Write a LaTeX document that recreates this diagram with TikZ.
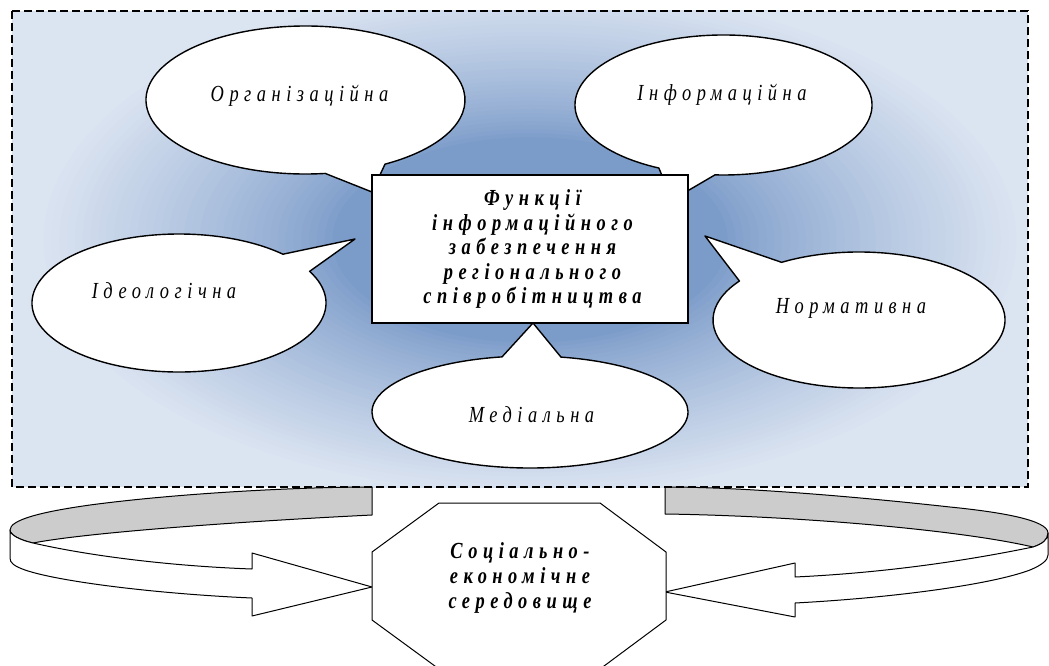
\documentclass[tikz,border=0pt]{standalone}
\usepackage{fontspec}
\setmainfont{Liberation Serif}
\newfontfamily\lblfont[FakeStretch=0.8,LetterSpace=24]{Liberation Serif}
\usetikzlibrary{calc}
\definecolor{bgdark}{RGB}{123,155,201}
\definecolor{bglight}{RGB}{219,228,241}
\definecolor{bandgray}{RGB}{204,204,204}
\begin{document}
\begin{tikzpicture}[x=1pt,y=-1pt,
  callout/.style={fill=white,draw=black,line width=1.4pt,line join=round},
  boxstyle/.style={fill=white,draw=black,line width=1.2pt},
  lbl/.style={font=\lblfont\itshape\fontsize{23}{24.5}\selectfont,inner sep=0pt,anchor=base},
  ttl/.style={font=\lblfont\bfseries\itshape\fontsize{23}{24.5}\selectfont,align=center,inner sep=0pt},
  band/.style={draw=black,line width=1pt,line join=round},
  frame/.style={draw=black,line width=1.6pt,dash pattern=on 8pt off 4pt}]
\useasboundingbox (0,0) rectangle (1049,666);
% background gradient (from centre)
\begin{scope}
  \clip (12,11) rectangle (1028,487);
  \fill[bglight] (12,11) rectangle (1028,487);
  \foreach \i in {0,...,40}{
    \pgfmathsetmacro\rr{0.98-\i*0.015}
    \pgfmathsetmacro\tt{100*(max(0.001,min(1,(\rr-0.38)/0.57)))^0.8}
    \fill[bglight!\tt!bgdark] (530,240) ellipse[x radius=520*\rr,y radius=270*\rr];
  }
\end{scope}
% curved 3D arrows
\draw[band,fill=bandgray] (372,487) -- (372,515)
  .. controls (250,521) and (90,532) .. (33,543)
  .. controls (20,540) and (10,535) .. (10,530)
  .. controls (10,520) and (40,512) .. (90,505)
  .. controls (180,493) and (300,487) .. (372,487) -- cycle;
\draw[band,fill=white] (33,543)
  .. controls (90,556) and (170,566) .. (252,569)
  -- (252,553) -- (372,587) -- (252,616) -- (252,598)
  .. controls (160,594) and (60,582) .. (25,570)
  .. controls (14,566) and (10,563) .. (10,558)
  -- (10,530)
  .. controls (10,535) and (20,540) .. (33,543) -- cycle;
\draw[band,fill=bandgray] (665,487) -- (665,514)
  .. controls (800,516) and (960,530) .. (1033,547)
  .. controls (1042,544) and (1048,540) .. (1048,533)
  .. controls (1048,520) and (1000,512) .. (950,507)
  .. controls (850,496) and (740,487) .. (665,487) -- cycle;
\draw[band,fill=white] (1033,547)
  .. controls (960,562) and (880,573) .. (795,577)
  -- (795,563) -- (665,592) -- (795,617) -- (795,603)
  .. controls (890,598) and (990,585) .. (1030,570)
  .. controls (1042,565) and (1048,560) .. (1048,555)
  -- (1048,533)
  .. controls (1048,540) and (1042,544) .. (1033,547) -- cycle;
% dashed frame
\draw[frame] (12,11) rectangle (1028,487);
% octagon
\draw[band,fill=white] (439,503) -- (600,503) -- (666,552) -- (666,620) -- (600,669) -- (439,669) -- (372,620) -- (372,552) -- cycle;
\node[ttl,font=\lblfont\bfseries\itshape\fontsize{23}{25}\selectfont] (env) at (520,578.4) {Соціально-\\економічне\\середовище};
% callouts
\coordinate (orgC) at (305.5,100);
\coordinate (orgT) at (372,192);
\draw[callout] ($(orgC)+(82.9:159.5 and 74)$) arc[start angle=82.9,end angle=420.1,x radius=159.5,y radius=74] -- (orgT) -- cycle;
\coordinate (infC) at (723.5,105);
\coordinate (infT) at (672,200);
\draw[callout] ($(infC)+(115.8:148.5 and 70)$) arc[start angle=115.8,end angle=453.3,x radius=148.5,y radius=70] -- (infT) -- cycle;
\coordinate (ideC) at (179,303);
\coordinate (ideT) at (355,239);
\draw[callout] ($(ideC)+(-27.3:147 and 69)$) arc[start angle=-27.3,end angle=315,x radius=147,y radius=69] -- (ideT) -- cycle;
\coordinate (norC) at (859,320);
\coordinate (norT) at (705,236);
\draw[callout] ($(norC)+(-122:146 and 68)$) arc[start angle=-122,end angle=215,x radius=146,y radius=68] -- (norT) -- cycle;
\coordinate (medC) at (530,412);
\coordinate (medT) at (533,323);
\draw[callout] ($(medC)+(-78.7:158 and 56)$) arc[start angle=-78.7,end angle=259.8,x radius=158,y radius=56] -- (medT) -- cycle;
% central box
\draw[boxstyle] (372,175) rectangle (688,323);
\node[ttl] (fn) at (532.5,249.4) {Функції\\інформаційного\\забезпечення\\регіонального\\співробітництва};
% labels
\node[lbl] (org) at (299.5,101.7) {Організаційна};
\node[lbl] (inf) at (722,100.7) {Інформаційна};
\node[lbl] (ide) at (164,298) {Ідеологічна};
\node[lbl] (nor) at (851,313) {Нормативна};
\node[lbl] (med) at (531.5,422.7) {Медіальна};
\end{tikzpicture}
\end{document}
